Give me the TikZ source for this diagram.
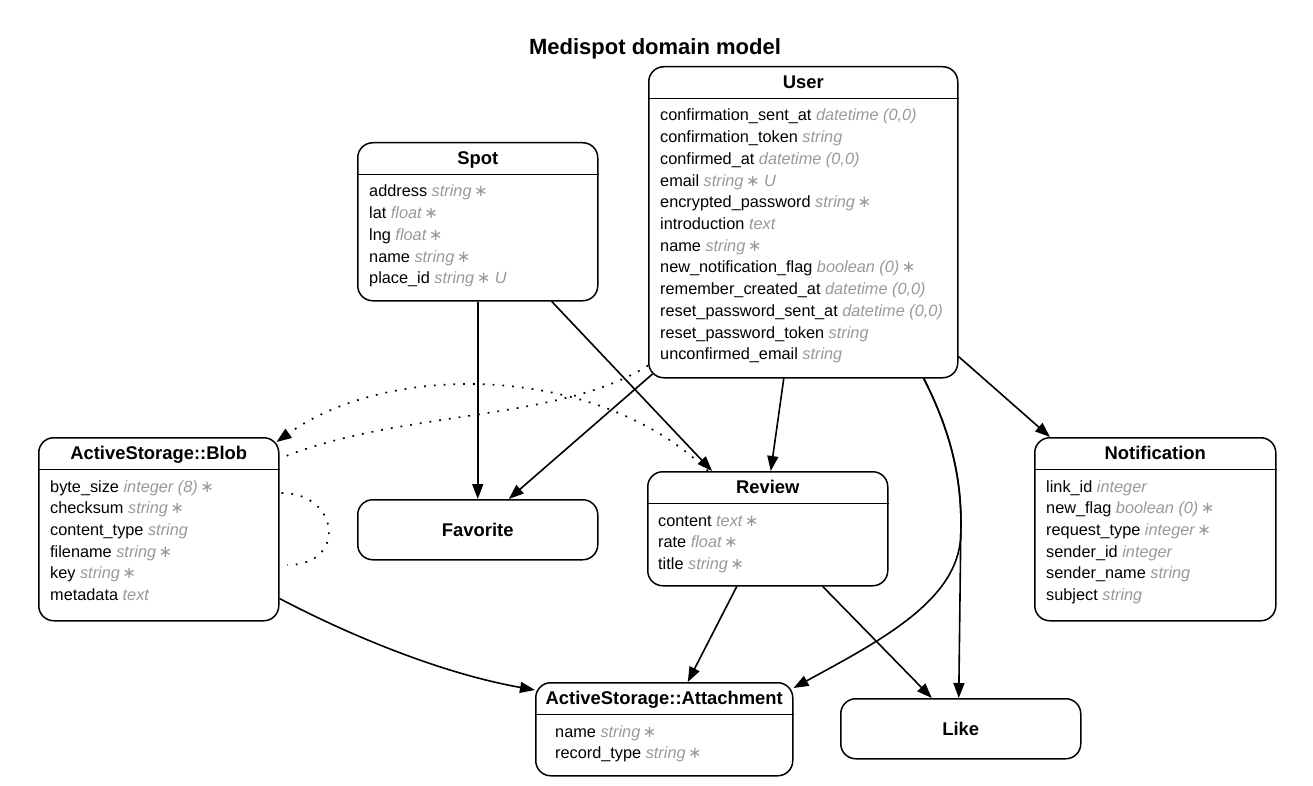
\documentclass[tikz,border=0pt]{standalone}
\usepackage{fontspec}
\setmainfont{Liberation Sans}
\newfontfamily\symfont{DejaVu Sans}
\usetikzlibrary{arrows.meta,calc}
\definecolor{typegray}{HTML}{999999}
% "required" marker after an attribute type
\newcommand\req{\hspace{2.5pt}{\symfont ∗}}
% entity table: id, left, top, width, height, title, row indent, rows (field/type)
\newcommand\entitybox[8]{%
  \node[entity, minimum width=#4pt, minimum height=#5pt] (#1) at (#2,#3) {};
  \draw[line width=1.5pt] ($(#1.north west)+(0,32.5)$) -- ($(#1.north east)+(0,32.5)$);
  \node[hdr] (#1-title) at ($(#1.north)+(0,22.5)$) {#6};
  \foreach \f/\t [count=\i from 0] in {#8} {
    \node[attr] (#1-row\i) at ($(#1.north west)+(#7,55+21.7*\i)$) {\f\ \textcolor{typegray}{\itshape\t}};
  }
}
\begin{document}
\begin{tikzpicture}[x=1pt,y=-1pt,
  entity/.style={rectangle, draw, line width=1.5pt, rounded corners=15pt, inner sep=0pt, anchor=north west},
  hdr/.style={anchor=base, inner sep=0pt, font=\fontsize{18.4}{22}\selectfont\bfseries},
  attr/.style={anchor=base west, inner sep=0pt, font=\fontsize{16.3}{20}\selectfont},
  plain/.style={entity, minimum width=240pt, minimum height=60pt, font=\fontsize{18.4}{22}\selectfont\bfseries},
  rel/.style={line width=1.6pt, -{Triangle[length=15pt,width=11pt]}},
  indirect/.style={line width=1.7pt, dash pattern=on 1.8pt off 8pt},
]
\fill[white] (0,0) rectangle (1313,786);
\useasboundingbox (0,0) rectangle (1313,786);

\node[anchor=base, inner sep=0pt, font=\fontsize{22}{26}\selectfont\bfseries] (title) at (655,55) {Medispot domain model};

% entities
\entitybox{user}{648}{66}{309}{311}{User}{12}{confirmation\_sent\_at/{datetime (0,0)}, confirmation\_token/string, confirmed\_at/{datetime (0,0)}, email/string\req\ U, encrypted\_password/string\req, introduction/text, name/string\req, new\_notification\_flag/boolean (0)\req, remember\_created\_at/{datetime (0,0)}, reset\_password\_sent\_at/{datetime (0,0)}, reset\_password\_token/string, unconfirmed\_email/string}
\entitybox{spot}{357}{142}{240}{158}{Spot}{12}{address/string\req, lat/float\req, lng/float\req, name/string\req, place\_id/string\req\ U}
\entitybox{blob}{38}{437}{240}{183}{ActiveStorage::Blob}{12}{byte\_size/integer (8)\req, checksum/string\req, content\_type/string, filename/string\req, key/string\req, metadata/text}
\entitybox{review}{647}{471}{240}{114}{Review}{11}{content/text\req, rate/float\req, title/string\req}
\entitybox{notif}{1034}{437}{241}{183}{Notification}{12}{link\_id/integer, new\_flag/boolean (0)\req, request\_type/integer\req, sender\_id/integer, sender\_name/string, subject/string}
\entitybox{attach}{535}{682}{257}{93}{ActiveStorage::Attachment}{20}{name/string\req, record\_type/string\req}
\node[plain] (fav) at (357,499) {Favorite};
\node[plain] (like) at (840,698) {Like};

% direct associations
\draw[rel] (spot.south) -- (fav.north);
\draw[rel] ($(spot.south)+(74,0)$) -- ($(review.north west)+(65,0)$);
\draw[rel] ($(user.south west)+(4.5,-4.5)$) -- ($(fav.north)+(31,0)$);
\draw[rel] ($(user.south)+(-19.5,0)$) -- ($(review.north)+(3,0)$);
\draw[rel] ($(user.south east)+(0,-22)$) -- ($(notif.north west)+(16,0)$);
\coordinate (split) at ($(like.north)+(0,-163)$);
\draw[rel] ($(user.south)+(120.5,0)$) .. controls +(27,53) and +(2,-55) .. (split) -- ($(like.north)+(-2,0)$);
\draw[rel] ($(user.south)+(120.5,0)$) .. controls +(27,53) and +(2,-55) .. (split)
  .. controls +(-2,65) and +(88,-48) .. ($(attach.north east)+(0,6)$);
\draw[rel] ($(review.south)+(-31,0)$) -- ($(attach.north)+(23.5,0)$);
\draw[rel] ($(review.south)+(55,0)$) -- ($(like.north)+(-29,0)$);
\draw[rel] ($(blob.south east)+(0,-23)$) .. controls +(82,43) and +(-85,-15) .. ($(attach.north west)+(0,8)$);

% indirect associations
\draw[indirect] ($(user.south west)+(0,-13)$) .. controls +(-88,56) and +(118,-47) .. ($(blob.north east)+(4,20)$);
\draw[indirect, -{Triangle[length=15pt,width=11pt]}] ($(review.north west)+(61,0)$) .. controls +(-108,-106) and +(115,-82) .. ($(blob.north east)+(-3,5)$);
\draw[indirect] ($(blob.north east)+(2,56)$) .. controls +(58,0) and +(60,0) .. ($(blob.north east)+(8,128)$);
\end{tikzpicture}
\end{document}
